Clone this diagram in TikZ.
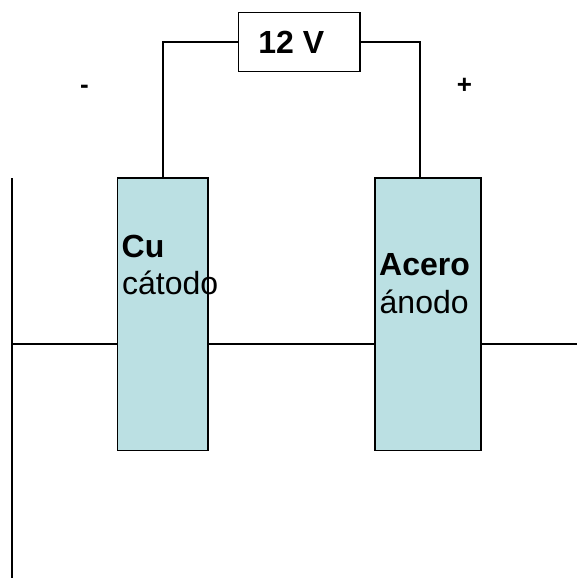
\documentclass[tikz,border=0pt]{standalone}
\usepackage{fontspec}
\setmainfont{Liberation Sans}
\definecolor{platefill}{HTML}{BBE0E3}
\tikzset{
  wire/.style={draw=black,line width=1.5pt},
  plate/.style={draw=black,line width=1.5pt,fill=platefill,rectangle,inner sep=0pt,outer sep=0pt,anchor=north west},
  source/.style={draw=black,line width=1.5pt,fill=white,rectangle,inner sep=0pt,outer sep=0pt,anchor=north west,font=\fontsize{32}{32}\selectfont\bfseries},
  lbl/.style={inner sep=0pt,anchor=base west,text=black,font=\fontsize{32}{32}\selectfont},
  bold/.style={lbl,font=\fontsize{32}{32}\selectfont\bfseries},
  sign/.style={inner sep=0pt,anchor=base,text=black,font=\fontsize{26}{26}\selectfont\bfseries}
}
\begin{document}
\begin{tikzpicture}[x=1pt,y=-1pt]
\useasboundingbox (0,0) rectangle (577,578);
\node[plate,minimum width=90.5pt,minimum height=272.5pt] (cu) at (117.5,178) {};
\node[plate,minimum width=106pt,minimum height=272.5pt] (acero) at (375,178) {};
\node[source,minimum width=121.5pt,minimum height=59pt] (bat) at (238.5,12.5) {\kern-16pt\raisebox{-1.5pt}{12 V}};
\coordinate (wallT) at (12,178);
\coordinate (wallB) at (12,578);
\coordinate (wallM) at (12,344);
\coordinate (endR) at (577,344);
\coordinate (cuTop) at (163,178);
\coordinate (aceroTop) at (420,178);
\draw[wire] (wallT) -- (wallB);
\draw[wire] (wallM) -- (wallM -| cu.west);
\draw[wire] (cu.east |- wallM) -- (acero.west |- wallM);
\draw[wire] (acero.east |- wallM) -- (endR);
\draw[wire] (bat.west) -| (cuTop);
\draw[wire] (bat.east) -| (aceroTop);
\node[bold] (culbl) at (121.5,257) {Cu};
\node[lbl] (catodo) at (122,294) {cátodo};
\node[bold] (acerolbl) at (379,275) {Acero};
\node[lbl] (anodo) at (379.5,313) {ánodo};
\node[sign] (minus) at (84.5,93) {-};
\node[sign] (plus) at (464.5,93) {+};
\end{tikzpicture}
\end{document}
